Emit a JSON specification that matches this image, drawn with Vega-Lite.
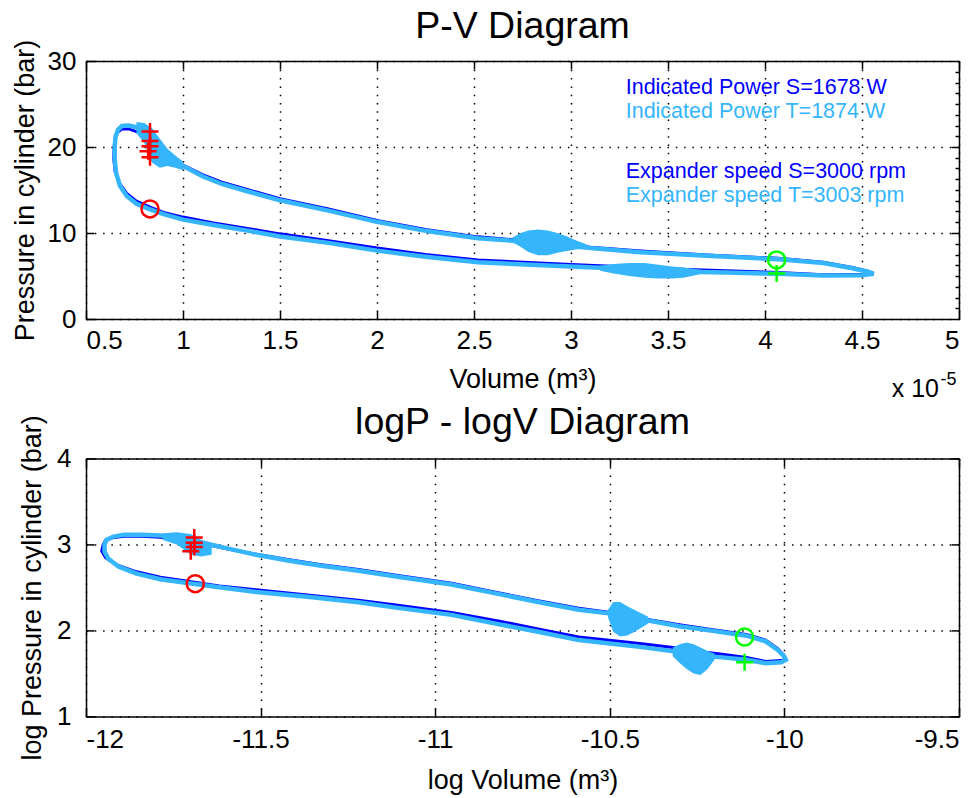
{
  "$schema": "https://vega.github.io/schema/vega-lite/v6.json",
  "padding": {"left": 11, "top": 8, "right": 5, "bottom": 5},
  "background": "white",
  "config": {
    "font": "Liberation Sans",
    "view": {"stroke": null},
    "axis": {
      "domainColor": "#000", "domainWidth": 1.5,
      "tickColor": "#000", "tickWidth": 1.5, "tickSize": -8,
      "labelColor": "#000", "labelFontSize": 26, "labelFont": "Liberation Sans",
      "titleColor": "#000", "titleFontSize": 27, "titleFontWeight": "normal", "titleFont": "Liberation Sans",
      "gridColor": "#000", "gridOpacity": 1, "gridWidth": 1.5, "gridDash": [1.5, 6.8]
    }
  },
  "datasets": {
    "pv": [
      {"s":"T","i":0,"V":0.83,"P":12.75,"lv":-11.699,"lp":2.5455},
      {"s":"T","i":1,"V":0.76,"P":13.4,"lv":-11.787,"lp":2.5953},
      {"s":"T","i":2,"V":0.71,"P":14.3,"lv":-11.855,"lp":2.6603},
      {"s":"T","i":3,"V":0.675,"P":15.5,"lv":-11.906,"lp":2.7408},
      {"s":"T","i":4,"V":0.655,"P":17.0,"lv":-11.936,"lp":2.8332},
      {"s":"T","i":5,"V":0.648,"P":18.5,"lv":-11.947,"lp":2.9178},
      {"s":"T","i":6,"V":0.648,"P":20.0,"lv":-11.947,"lp":2.9957},
      {"s":"T","i":7,"V":0.652,"P":21.2,"lv":-11.941,"lp":3.054},
      {"s":"T","i":8,"V":0.665,"P":22.0,"lv":-11.921,"lp":3.091},
      {"s":"T","i":9,"V":0.685,"P":22.45,"lv":-11.891,"lp":3.1113},
      {"s":"T","i":10,"V":0.72,"P":22.5,"lv":-11.841,"lp":3.1135},
      {"s":"T","i":11,"V":0.76,"P":22.3,"lv":-11.787,"lp":3.1046},
      {"s":"T","i":12,"V":0.8,"P":21.8,"lv":-11.736,"lp":3.0819},
      {"s":"T","i":13,"V":0.84,"P":21.0,"lv":-11.687,"lp":3.0445},
      {"s":"T","i":14,"V":0.88,"P":20.0,"lv":-11.641,"lp":2.9957},
      {"s":"T","i":15,"V":0.93,"P":19.0,"lv":-11.586,"lp":2.9444},
      {"s":"T","i":16,"V":1.0,"P":17.8,"lv":-11.513,"lp":2.8792},
      {"s":"T","i":17,"V":1.1,"P":16.6,"lv":-11.418,"lp":2.8094},
      {"s":"T","i":18,"V":1.2,"P":15.7,"lv":-11.331,"lp":2.7537},
      {"s":"T","i":19,"V":1.34,"P":14.8,"lv":-11.22,"lp":2.6946},
      {"s":"T","i":20,"V":1.5,"P":13.8,"lv":-11.107,"lp":2.6247},
      {"s":"T","i":21,"V":1.75,"P":12.6,"lv":-10.953,"lp":2.5337},
      {"s":"T","i":22,"V":2.0,"P":11.3,"lv":-10.82,"lp":2.4248},
      {"s":"T","i":23,"V":2.25,"P":10.25,"lv":-10.702,"lp":2.3273},
      {"s":"T","i":24,"V":2.52,"P":9.4,"lv":-10.589,"lp":2.2407},
      {"s":"T","i":25,"V":2.85,"P":8.85,"lv":-10.466,"lp":2.1804},
      {"s":"T","i":26,"V":3.1,"P":8.25,"lv":-10.382,"lp":2.1102},
      {"s":"T","i":27,"V":3.36,"P":7.75,"lv":-10.301,"lp":2.0477},
      {"s":"T","i":28,"V":3.7,"P":7.35,"lv":-10.205,"lp":1.9947},
      {"s":"T","i":29,"V":4.07,"P":6.95,"lv":-10.109,"lp":1.9387},
      {"s":"T","i":30,"V":4.3,"P":6.5,"lv":-10.054,"lp":1.8718},
      {"s":"T","i":31,"V":4.45,"P":5.9,"lv":-10.02,"lp":1.775},
      {"s":"T","i":32,"V":4.53,"P":5.5,"lv":-10.002,"lp":1.7047},
      {"s":"T","i":33,"V":4.56,"P":5.25,"lv":-9.996,"lp":1.6582},
      {"s":"T","i":34,"V":4.5,"P":5.1,"lv":-10.009,"lp":1.6292},
      {"s":"T","i":35,"V":4.3,"P":5.05,"lv":-10.054,"lp":1.6194},
      {"s":"T","i":36,"V":4.07,"P":5.25,"lv":-10.109,"lp":1.6582},
      {"s":"T","i":37,"V":3.8,"P":5.4,"lv":-10.178,"lp":1.6864},
      {"s":"T","i":38,"V":3.6,"P":5.5,"lv":-10.232,"lp":1.7047},
      {"s":"T","i":39,"V":3.36,"P":5.75,"lv":-10.301,"lp":1.7492},
      {"s":"T","i":40,"V":3.0,"P":6.1,"lv":-10.414,"lp":1.8083},
      {"s":"T","i":41,"V":2.52,"P":6.6,"lv":-10.589,"lp":1.8871},
      {"s":"T","i":42,"V":2.25,"P":7.25,"lv":-10.702,"lp":1.981},
      {"s":"T","i":43,"V":2.0,"P":7.95,"lv":-10.82,"lp":2.0732},
      {"s":"T","i":44,"V":1.75,"P":8.85,"lv":-10.953,"lp":2.1804},
      {"s":"T","i":45,"V":1.5,"P":9.6,"lv":-11.107,"lp":2.2618},
      {"s":"T","i":46,"V":1.34,"P":10.25,"lv":-11.22,"lp":2.3273},
      {"s":"T","i":47,"V":1.15,"P":10.95,"lv":-11.373,"lp":2.3933},
      {"s":"T","i":48,"V":1.0,"P":11.55,"lv":-11.513,"lp":2.4467},
      {"s":"T","i":49,"V":0.9,"P":12.2,"lv":-11.618,"lp":2.5014},
      {"s":"T","i":50,"V":0.83,"P":12.75,"lv":-11.699,"lp":2.5455},
      {"s":"S","i":0,"V":0.83,"P":13.0,"lv":-11.699,"lp":2.5649},
      {"s":"S","i":1,"V":0.76,"P":13.7,"lv":-11.787,"lp":2.6174},
      {"s":"S","i":2,"V":0.71,"P":14.6,"lv":-11.855,"lp":2.681},
      {"s":"S","i":3,"V":0.672,"P":15.8,"lv":-11.91,"lp":2.76},
      {"s":"S","i":4,"V":0.65,"P":17.2,"lv":-11.944,"lp":2.8449},
      {"s":"S","i":5,"V":0.643,"P":18.6,"lv":-11.955,"lp":2.9232},
      {"s":"S","i":6,"V":0.645,"P":20.0,"lv":-11.951,"lp":2.9957},
      {"s":"S","i":7,"V":0.65,"P":21.0,"lv":-11.944,"lp":3.0445},
      {"s":"S","i":8,"V":0.663,"P":21.7,"lv":-11.924,"lp":3.0773},
      {"s":"S","i":9,"V":0.685,"P":22.1,"lv":-11.891,"lp":3.0956},
      {"s":"S","i":10,"V":0.72,"P":22.1,"lv":-11.841,"lp":3.0956},
      {"s":"S","i":11,"V":0.76,"P":21.8,"lv":-11.787,"lp":3.0819},
      {"s":"S","i":12,"V":0.8,"P":21.3,"lv":-11.736,"lp":3.0587},
      {"s":"S","i":13,"V":0.84,"P":20.6,"lv":-11.687,"lp":3.0253},
      {"s":"S","i":14,"V":0.88,"P":19.8,"lv":-11.641,"lp":2.9857},
      {"s":"S","i":15,"V":0.93,"P":18.9,"lv":-11.586,"lp":2.9392},
      {"s":"S","i":16,"V":1.0,"P":17.9,"lv":-11.513,"lp":2.8848},
      {"s":"S","i":17,"V":1.1,"P":16.8,"lv":-11.418,"lp":2.8214},
      {"s":"S","i":18,"V":1.2,"P":15.9,"lv":-11.331,"lp":2.7663},
      {"s":"S","i":19,"V":1.34,"P":15.0,"lv":-11.22,"lp":2.7081},
      {"s":"S","i":20,"V":1.5,"P":14.0,"lv":-11.107,"lp":2.6391},
      {"s":"S","i":21,"V":1.75,"P":12.8,"lv":-10.953,"lp":2.5494},
      {"s":"S","i":22,"V":2.0,"P":11.45,"lv":-10.82,"lp":2.438},
      {"s":"S","i":23,"V":2.25,"P":10.4,"lv":-10.702,"lp":2.3418},
      {"s":"S","i":24,"V":2.52,"P":9.55,"lv":-10.589,"lp":2.2565},
      {"s":"S","i":25,"V":2.85,"P":8.95,"lv":-10.466,"lp":2.1917},
      {"s":"S","i":26,"V":3.1,"P":8.35,"lv":-10.382,"lp":2.1223},
      {"s":"S","i":27,"V":3.36,"P":7.9,"lv":-10.301,"lp":2.0669},
      {"s":"S","i":28,"V":3.7,"P":7.45,"lv":-10.205,"lp":2.0082},
      {"s":"S","i":29,"V":4.07,"P":7.05,"lv":-10.109,"lp":1.953},
      {"s":"S","i":30,"V":4.3,"P":6.6,"lv":-10.054,"lp":1.8871},
      {"s":"S","i":31,"V":4.45,"P":6.0,"lv":-10.02,"lp":1.7918},
      {"s":"S","i":32,"V":4.53,"P":5.55,"lv":-10.002,"lp":1.7138},
      {"s":"S","i":33,"V":4.56,"P":5.3,"lv":-9.996,"lp":1.6677},
      {"s":"S","i":34,"V":4.5,"P":5.2,"lv":-10.009,"lp":1.6487},
      {"s":"S","i":35,"V":4.3,"P":5.15,"lv":-10.054,"lp":1.639},
      {"s":"S","i":36,"V":4.07,"P":5.4,"lv":-10.109,"lp":1.6864},
      {"s":"S","i":37,"V":3.8,"P":5.6,"lv":-10.178,"lp":1.7228},
      {"s":"S","i":38,"V":3.6,"P":5.75,"lv":-10.232,"lp":1.7492},
      {"s":"S","i":39,"V":3.36,"P":6.0,"lv":-10.301,"lp":1.7918},
      {"s":"S","i":40,"V":3.0,"P":6.35,"lv":-10.414,"lp":1.8485},
      {"s":"S","i":41,"V":2.52,"P":6.85,"lv":-10.589,"lp":1.9242},
      {"s":"S","i":42,"V":2.25,"P":7.5,"lv":-10.702,"lp":2.0149},
      {"s":"S","i":43,"V":2.0,"P":8.25,"lv":-10.82,"lp":2.1102},
      {"s":"S","i":44,"V":1.75,"P":9.1,"lv":-10.953,"lp":2.2083},
      {"s":"S","i":45,"V":1.5,"P":9.9,"lv":-11.107,"lp":2.2925},
      {"s":"S","i":46,"V":1.34,"P":10.5,"lv":-11.22,"lp":2.3514},
      {"s":"S","i":47,"V":1.15,"P":11.2,"lv":-11.373,"lp":2.4159},
      {"s":"S","i":48,"V":1.0,"P":11.85,"lv":-11.513,"lp":2.4723},
      {"s":"S","i":49,"V":0.9,"P":12.4,"lv":-11.618,"lp":2.5177},
      {"s":"S","i":50,"V":0.83,"P":13.0,"lv":-11.699,"lp":2.5649}
    ],
    "envTop": [
      {"g":"a","V":0.76,"lo":21.6,"hi":22.9},
      {"g":"a","V":0.8,"lo":20.5,"hi":22.8},
      {"g":"a","V":0.84,"lo":18.2,"hi":22.2},
      {"g":"a","V":0.88,"lo":17.6,"hi":21.0},
      {"g":"a","V":0.92,"lo":17.8,"hi":19.8},
      {"g":"a","V":0.96,"lo":17.6,"hi":19.0},
      {"g":"a","V":1.0,"lo":17.3,"hi":18.3},
      {"g":"b","V":2.7,"lo":8.9,"hi":9.5},
      {"g":"b","V":2.74,"lo":8.4,"hi":10.0},
      {"g":"b","V":2.78,"lo":7.8,"hi":10.3},
      {"g":"b","V":2.83,"lo":7.4,"hi":10.4},
      {"g":"b","V":2.88,"lo":7.4,"hi":10.3},
      {"g":"b","V":2.93,"lo":7.7,"hi":10.0},
      {"g":"b","V":2.98,"lo":7.9,"hi":9.6},
      {"g":"b","V":3.03,"lo":8.1,"hi":9.1},
      {"g":"b","V":3.08,"lo":8.2,"hi":8.7},
      {"g":"c","V":3.15,"lo":5.6,"hi":6.2},
      {"g":"c","V":3.22,"lo":5.3,"hi":6.4},
      {"g":"c","V":3.3,"lo":5.0,"hi":6.5},
      {"g":"c","V":3.38,"lo":4.8,"hi":6.5},
      {"g":"c","V":3.45,"lo":4.7,"hi":6.3},
      {"g":"c","V":3.52,"lo":4.7,"hi":6.1},
      {"g":"c","V":3.58,"lo":4.8,"hi":6.0},
      {"g":"c","V":3.64,"lo":5.1,"hi":5.8},
      {"g":"c","V":3.68,"lo":5.3,"hi":5.7}
    ],
    "envLog": [
      {"g":"a","lv":-11.78,"lo":3.05,"hi":3.13},
      {"g":"a","lv":-11.74,"lo":3.0,"hi":3.14},
      {"g":"a","lv":-11.7,"lo":2.88,"hi":3.12},
      {"g":"a","lv":-11.67,"lo":2.86,"hi":3.05},
      {"g":"a","lv":-11.64,"lo":2.88,"hi":2.98},
      {"g":"b","lv":-10.505,"lo":2.15,"hi":2.24},
      {"g":"b","lv":-10.49,"lo":1.98,"hi":2.33},
      {"g":"b","lv":-10.47,"lo":1.93,"hi":2.33},
      {"g":"b","lv":-10.45,"lo":1.94,"hi":2.28},
      {"g":"b","lv":-10.43,"lo":1.98,"hi":2.24},
      {"g":"b","lv":-10.41,"lo":2.03,"hi":2.2},
      {"g":"b","lv":-10.39,"lo":2.08,"hi":2.16},
      {"g":"c","lv":-10.32,"lo":1.7,"hi":1.8},
      {"g":"c","lv":-10.3,"lo":1.62,"hi":1.84},
      {"g":"c","lv":-10.28,"lo":1.55,"hi":1.86},
      {"g":"c","lv":-10.26,"lo":1.5,"hi":1.84},
      {"g":"c","lv":-10.24,"lo":1.48,"hi":1.8},
      {"g":"c","lv":-10.22,"lo":1.55,"hi":1.76},
      {"g":"c","lv":-10.2,"lo":1.66,"hi":1.73}
    ],
    "mkTop": [
      {"e":"A","m":"plus","V":0.83,"P":21.8},
      {"e":"A","m":"plus","V":0.83,"P":20.7},
      {"e":"A","m":"plus","V":0.83,"P":20.1},
      {"e":"A","m":"plus","V":0.82,"P":19.5},
      {"e":"A","m":"plus","V":0.83,"P":18.8},
      {"e":"A","m":"circle","V":0.83,"P":12.8},
      {"e":"B","m":"circle","V":4.06,"P":6.87},
      {"e":"B","m":"plus","V":4.06,"P":5.3}
    ],
    "mkLog": [
      {"e":"A","m":"plus","lv":-11.69,"lp":3.08},
      {"e":"A","m":"plus","lv":-11.69,"lp":3.02},
      {"e":"A","m":"plus","lv":-11.69,"lp":2.97},
      {"e":"A","m":"plus","lv":-11.7,"lp":2.92},
      {"e":"A","m":"circle","lv":-11.687,"lp":2.543},
      {"e":"B","m":"circle","lv":-10.114,"lp":1.922},
      {"e":"B","m":"plus","lv":-10.114,"lp":1.63}
    ],
    "notes": [
      {"label":"Indicated Power S=1678 W","s":"S","V":3.282,"P":26.22},
      {"label":"Indicated Power T=1874 W","s":"T","V":3.282,"P":23.4},
      {"label":"Expander speed S=3000 rpm","s":"S","V":3.282,"P":16.44},
      {"label":"Expander speed T=3003 rpm","s":"T","V":3.282,"P":13.66}
    ]
  },
  "bounds": "flush",
  "spacing": 139.4,
  "vconcat": [
    {
      "width": 873, "height": 258,
      "resolve": {"axis": {"x": "independent", "y": "independent"}},
      "layer": [
        {
          "data": {"name": "pv"},
          "transform": [{"filter": "datum.s == 'S'"}],
          "mark": {"type": "line", "strokeWidth": 3},
          "encoding": {
            "x": {"field": "V", "type": "quantitative", "scale": {"domain": [0.5, 5], "nice": false, "zero": false},
                  "axis": {"orient": "bottom", "values": [0.5,1,1.5,2,2.5,3,3.5,4,4.5,5], "labelExpr": "toString(datum.value)", "grid": true, "labelPadding": 16, "title": "Volume (m³)", "titlePadding": 13}},
            "y": {"field": "P", "type": "quantitative", "scale": {"domain": [0, 30], "nice": false, "zero": false},
                  "axis": {"orient": "left", "values": [0,10,20,30], "labelExpr": "toString(datum.value)", "grid": true, "labelPadding": 18, "title": "Pressure in cylinder (bar)", "titlePadding": 8}},
            "color": {"field": "s", "type": "nominal", "legend": null, "scale": {"domain": ["S","T","A","B"], "range": ["#0000ff","#35b5fb","#ff0000","#00ff00"]}},
            "order": {"field": "i", "type": "quantitative"}
          }
        },
        {
          "data": {"name": "pv"},
          "transform": [{"filter": "datum.s == 'T'"}],
          "mark": {"type": "line", "strokeWidth": 4.5},
          "encoding": {
            "x": {"field": "V", "type": "quantitative", "axis": {"orient": "top", "values": [0.5,1,1.5,2,2.5,3,3.5,4,4.5,5], "labels": false, "grid": false, "title": null}},
            "y": {"field": "P", "type": "quantitative", "axis": {"orient": "right", "values": [1.25,2.5,3.75,5,6.25,7.5,8.75,10,11.25,12.5,13.75,15,16.25,17.5,18.75,20,21.25,22.5,23.75,25,26.25,27.5,28.75], "labels": false, "grid": false, "title": null, "tickSize": {"condition": {"test": "datum.value % 10 == 0", "value": -8}, "value": -4}}},
            "color": {"field": "s", "type": "nominal", "legend": null},
            "order": {"field": "i", "type": "quantitative"}
          }
        },
        {
          "data": {"name": "envTop"},
          "mark": {"type": "area", "color": "#35b5fb"},
          "encoding": {
            "x": {"field": "V", "type": "quantitative", "axis": null},
            "y": {"field": "lo", "type": "quantitative", "axis": null},
            "y2": {"field": "hi"},
            "detail": {"field": "g"}
          }
        },
        {
          "data": {"name": "mkTop"},
          "mark": {"type": "point", "filled": false, "strokeWidth": 2.5, "size": 290, "opacity": 1},
          "encoding": {
            "x": {"field": "V", "type": "quantitative", "axis": null},
            "y": {"field": "P", "type": "quantitative", "axis": null},
            "color": {"field": "e", "type": "nominal", "legend": null},
            "shape": {"field": "m", "type": "nominal", "legend": null, "scale": {"domain": ["plus","circle"], "range": ["M-1,0H1M0,-1V1", "circle"]}}
          }
        },
        {
          "data": {"name": "notes"},
          "mark": {"type": "text", "align": "left", "baseline": "alphabetic", "fontSize": 21.5},
          "encoding": {
            "x": {"field": "V", "type": "quantitative", "axis": null},
            "y": {"field": "P", "type": "quantitative", "axis": null},
            "text": {"field": "label"},
            "color": {"field": "s", "type": "nominal", "legend": null}
          }
        },
        {
          "data": {"values": [{}]},
          "mark": {"type": "text", "align": "center", "baseline": "alphabetic", "fontSize": 37.5, "color": "#000"},
          "encoding": {
            "x": {"datum": 2.75, "type": "quantitative", "axis": null},
            "y": {"datum": 32.63, "type": "quantitative", "axis": null},
            "text": {"value": "P-V Diagram"}
          }
        },
        {
          "data": {"values": [{}]},
          "mark": {"type": "text", "align": "right", "baseline": "alphabetic", "fontSize": 25, "color": "#000"},
          "encoding": {
            "x": {"datum": 4.897, "type": "quantitative", "axis": null},
            "y": {"datum": -9.08, "type": "quantitative", "axis": null},
            "text": {"value": "x 10"}
          }
        },
        {
          "data": {"values": [{}]},
          "mark": {"type": "text", "align": "left", "baseline": "alphabetic", "fontSize": 18, "color": "#000"},
          "encoding": {
            "x": {"datum": 4.905, "type": "quantitative", "axis": null},
            "y": {"datum": -7.7, "type": "quantitative", "axis": null},
            "text": {"value": "-5"}
          }
        }
      ]
    },
    {
      "width": 873, "height": 258,
      "resolve": {"axis": {"x": "independent", "y": "independent"}},
      "layer": [
        {
          "data": {"name": "pv"},
          "transform": [{"filter": "datum.s == 'S'"}],
          "mark": {"type": "line", "strokeWidth": 3},
          "encoding": {
            "x": {"field": "lv", "type": "quantitative", "scale": {"domain": [-12, -9.5], "nice": false, "zero": false},
                  "axis": {"orient": "bottom", "values": [-12,-11.5,-11,-10.5,-10,-9.5], "labelExpr": "toString(datum.value)", "grid": true, "labelPadding": 18, "title": "log Volume (m³)", "titlePadding": 15}},
            "y": {"field": "lp", "type": "quantitative", "scale": {"domain": [1, 4], "nice": false, "zero": false},
                  "axis": {"orient": "left", "values": [1,2,3,4], "labelExpr": "toString(datum.value)", "grid": true, "labelPadding": 23, "title": "log Pressure in cylinder (bar)", "titlePadding": 10}},
            "color": {"field": "s", "type": "nominal", "legend": null, "scale": {"domain": ["S","T","A","B"], "range": ["#0000ff","#35b5fb","#ff0000","#00ff00"]}},
            "order": {"field": "i", "type": "quantitative"}
          }
        },
        {
          "data": {"name": "pv"},
          "transform": [{"filter": "datum.s == 'T'"}],
          "mark": {"type": "line", "strokeWidth": 4.5},
          "encoding": {
            "x": {"field": "lv", "type": "quantitative", "axis": {"orient": "top", "values": [-12,-11.5,-11,-10.5,-10,-9.5], "labels": false, "grid": false, "title": null}},
            "y": {"field": "lp", "type": "quantitative", "axis": {"orient": "right", "values": [1,2,3,4], "labels": false, "grid": false, "title": null}},
            "color": {"field": "s", "type": "nominal", "legend": null},
            "order": {"field": "i", "type": "quantitative"}
          }
        },
        {
          "data": {"name": "envLog"},
          "mark": {"type": "area", "color": "#35b5fb"},
          "encoding": {
            "x": {"field": "lv", "type": "quantitative", "axis": null},
            "y": {"field": "lo", "type": "quantitative", "axis": null},
            "y2": {"field": "hi"},
            "detail": {"field": "g"}
          }
        },
        {
          "data": {"name": "mkLog"},
          "mark": {"type": "point", "filled": false, "strokeWidth": 2.5, "size": 290, "opacity": 1},
          "encoding": {
            "x": {"field": "lv", "type": "quantitative", "axis": null},
            "y": {"field": "lp", "type": "quantitative", "axis": null},
            "color": {"field": "e", "type": "nominal", "legend": null},
            "shape": {"field": "m", "type": "nominal", "legend": null, "scale": {"domain": ["plus","circle"], "range": ["M-1,0H1M0,-1V1", "circle"]}}
          }
        },
        {
          "data": {"values": [{}]},
          "mark": {"type": "text", "align": "center", "baseline": "alphabetic", "fontSize": 37.5, "color": "#000"},
          "encoding": {
            "x": {"datum": -10.75, "type": "quantitative", "axis": null},
            "y": {"datum": 4.279, "type": "quantitative", "axis": null},
            "text": {"value": "logP - logV Diagram"}
          }
        }
      ]
    }
  ]
}
